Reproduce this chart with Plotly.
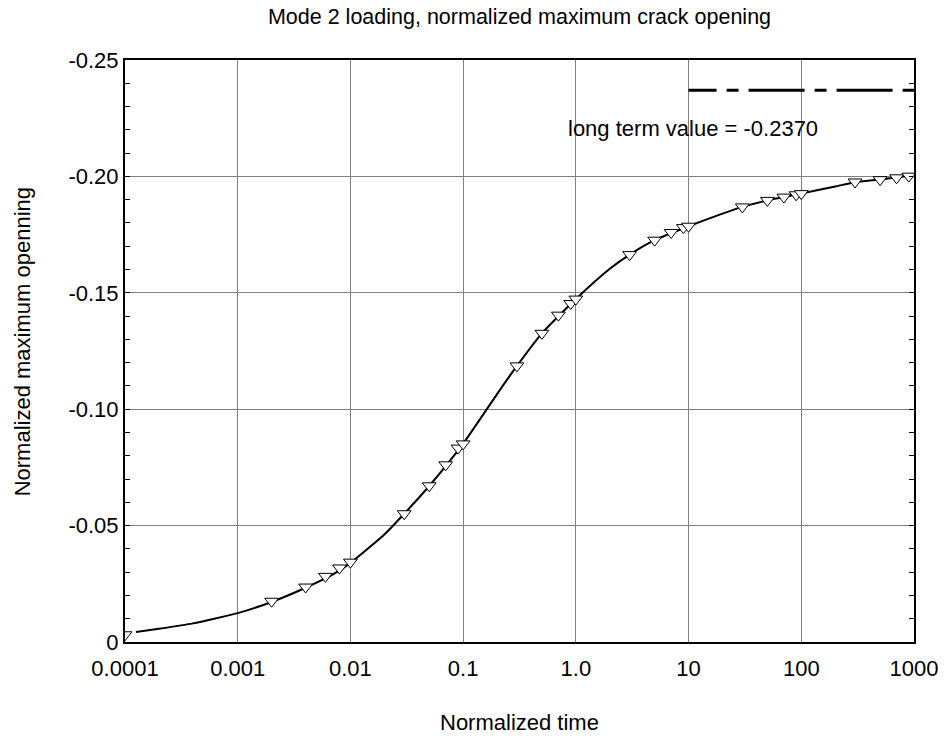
import plotly.graph_objects as go

# ---- data ----
curve_t = [1.25e-4, 2e-4, 4e-4, 1e-3, 2e-3, 4e-3, 7e-3, 1e-2, 2e-2, 3e-2, 5e-2, 0.1,
           0.2, 0.3, 0.5, 1.0, 2.0, 3.0, 5.0, 10.0, 20.0, 30.0, 50.0, 100.0, 200.0,
           300.0, 500.0, 1000.0]
curve_v = [-0.0043, -0.0057, -0.0080, -0.0124, -0.0172, -0.0233, -0.0290, -0.0340,
           -0.0462, -0.0551, -0.0670, -0.0852, -0.1065, -0.1186, -0.1326, -0.1473,
           -0.1603, -0.1664, -0.1726, -0.1786, -0.1840, -0.1869, -0.1897, -0.1926,
           -0.1957, -0.1975, -0.1987, -0.2005]

marker_t = [1e-4, 0.002, 0.004, 0.006, 0.008, 0.01, 0.03, 0.05, 0.07, 0.09, 0.1,
            0.3, 0.5, 0.7, 0.9, 1.0, 3.0, 5.0, 7.0, 9.0, 10.0, 30.0, 50.0, 70.0,
            90.0, 100.0, 300.0, 500.0, 700.0, 900.0]
marker_v = [-0.0031, -0.0175, -0.0236, -0.0282, -0.0318, -0.0343, -0.0551, -0.0671,
            -0.0761, -0.0833, -0.0851, -0.1186, -0.1326, -0.1404, -0.1454, -0.1473,
            -0.1664, -0.1726, -0.1759, -0.1780, -0.1786, -0.1869, -0.1897, -0.1911,
            -0.1921, -0.1926, -0.1976, -0.1986, -0.1994, -0.2001]

long_term_t = [10.0, 1000.0]
long_term_value = -0.2370

x_tickvals = [1e-4, 1e-3, 1e-2, 0.1, 1.0, 10.0, 100.0, 1000.0]
x_ticktext = ["0.0001", "0.001", "0.01", "0.1", "1.0", "10", "100", "1000"]
y_tickvals = [-0.25, -0.20, -0.15, -0.10, -0.05, 0.0]
y_ticktext = ["-0.25", "-0.20", "-0.15", "-0.10", "-0.05", "0"]

FONT = "Liberation Sans, Arial, Helvetica, sans-serif"

fig = go.Figure()

fig.add_trace(go.Scatter(
    x=long_term_t, y=[long_term_value] * len(long_term_t), mode="lines",
    line=dict(color="black", width=3, dash="28px,10px,12px,10px,28px,0px"),
    showlegend=False, hoverinfo="skip"))

fig.add_trace(go.Scatter(
    x=curve_t, y=curve_v, mode="lines",
    line=dict(color="black", width=2, shape="spline", smoothing=0.5),
    showlegend=False))

fig.add_trace(go.Scatter(
    x=marker_t, y=marker_v, mode="markers",
    marker=dict(symbol="triangle-down", size=12, color="white",
                line=dict(color="black", width=1)),
    showlegend=False))

fig.add_annotation(x=1.038, y=-0.2205, xref="x", yref="y",
                   text="long term value = -0.2370", showarrow=False,
                   font=dict(family=FONT, size=22, color="black"),
                   xanchor="center", yanchor="middle")

fig.add_annotation(x=0.5, y=-0.1383, xref="paper", yref="paper",
                   text="Normalized time", showarrow=False,
                   font=dict(family=FONT, size=22, color="black"),
                   xanchor="center", yanchor="middle")

fig.add_annotation(x=-0.1297, y=0.516, xref="paper", yref="paper",
                   text="Normalized maximum openning", showarrow=False,
                   textangle=-90,
                   font=dict(family=FONT, size=22, color="black"),
                   xanchor="center", yanchor="middle")

fig.update_layout(
    width=950, height=742,
    margin=dict(l=125, r=31, t=60, b=100, pad=0),
    paper_bgcolor="white", plot_bgcolor="white",
    font=dict(family=FONT, size=22, color="black"),
    title=dict(text="Mode 2 loading, normalized maximum crack opening",
               x=0.5, xref="paper", y=1 - 16 / 742, yref="container",
               xanchor="center", yanchor="middle",
               font=dict(family=FONT, size=21.5, color="black")),
    xaxis=dict(type="log", range=[-4, 3], tickvals=x_tickvals, ticktext=x_ticktext,
               showgrid=True, gridcolor="#808080", gridwidth=1,
               showline=True, linecolor="black", linewidth=2, mirror=True,
               ticks="", zeroline=False, tickfont=dict(size=22),
               ticklabelstandoff=6),
    yaxis=dict(range=[0, -0.25], tickvals=y_tickvals, ticktext=y_ticktext,
               showgrid=True, gridcolor="#808080", gridwidth=1,
               showline=True, linecolor="black", linewidth=2, mirror="ticks",
               ticks="inside", ticklen=5, tickcolor="black",
               minor=dict(dtick=0.01, tick0=0, ticks="inside", ticklen=5,
                          tickcolor="black", showgrid=False),
               zeroline=False, tickfont=dict(size=22)),
)

fig.write_html("out.html",
               config={"displayModeBar": False},
               post_script="document.body.style.margin='0';"
                           "document.body.style.overflow='hidden';")
